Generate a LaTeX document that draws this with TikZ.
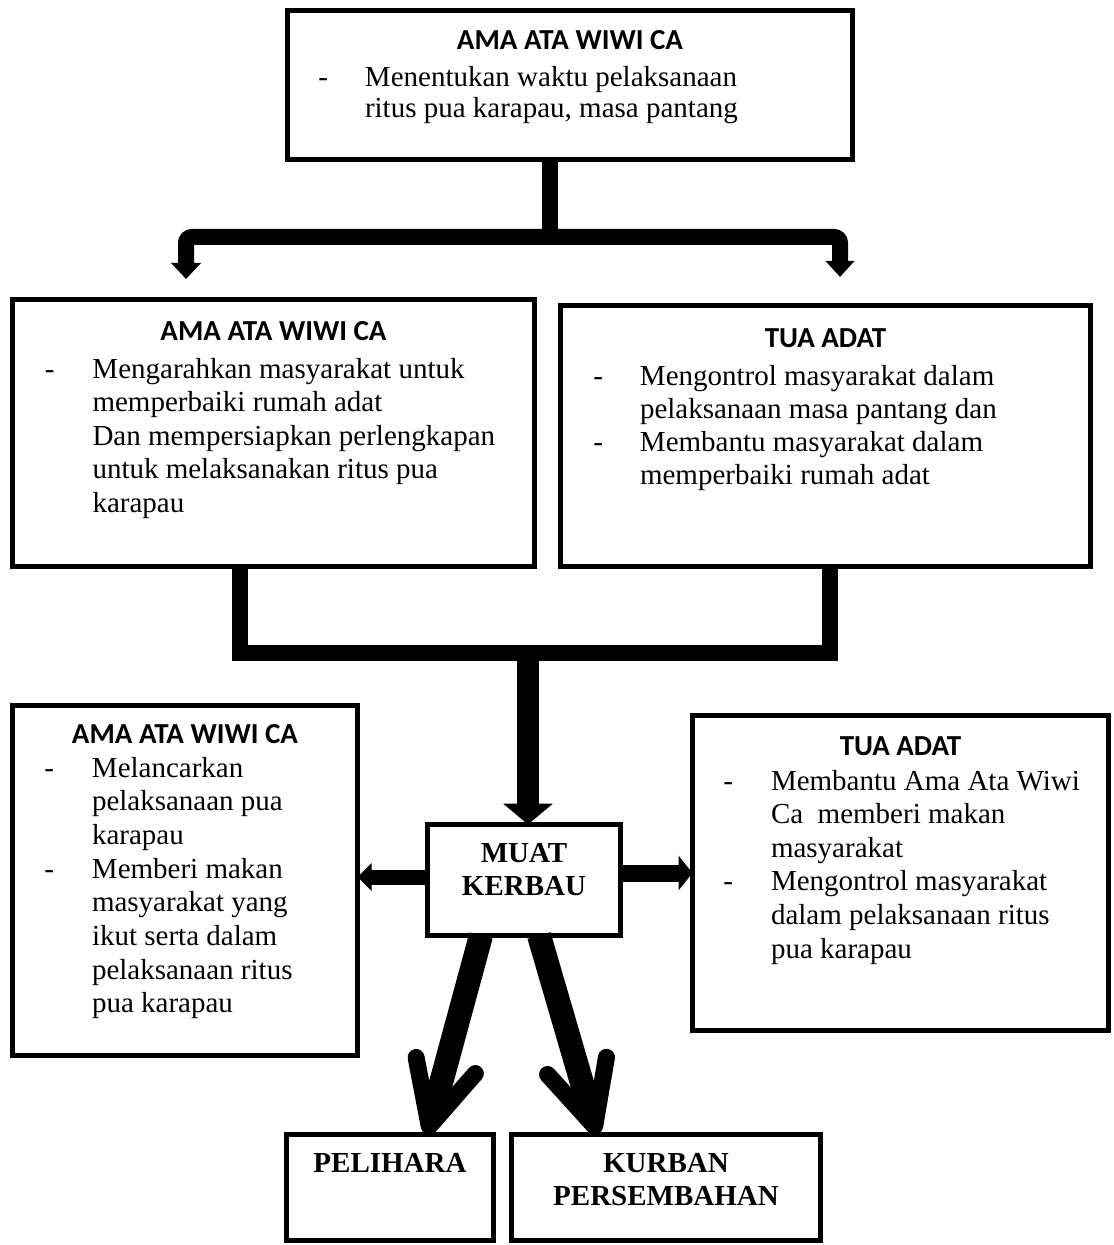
\documentclass[tikz,border=0pt]{standalone}
\usepackage{fontspec}
\setmainfont{Liberation Serif}
\newfontfamily\headfont{Carlito}
\usetikzlibrary{arrows.meta}

% heading line of a box: #1 = drop of first baseline, #2 = text
\newcommand{\boxhead}[2]{{\centering\headfont\bfseries\rule{0pt}{#1}#2\par}}
% hanging dash before an item
\newcommand{\dsh}[1]{\noindent\llap{-\hspace{#1}}}

\begin{document}
\begin{tikzpicture}[x=0.5pt, y=-0.5pt]%
        \tikzstyle{box} = [draw, line width=2.5pt, inner sep=0pt, outer sep=0pt, font=\fontsize{14.5}{17}\selectfont]
        \tikzstyle{bar} = [line width=8pt]
        \tikzstyle{fork} = [line width=12pt, -{Straight Barb[length=31.5pt, width=30.7pt, line width=8.5pt, round]}]

        \path[use as bounding box, fill=white] (0,0) rectangle (1113,1245);

        % boxes
        \node[box] (top) at (570,85) {\parbox[c][74.5pt][t]{282.5pt}{%
          \boxhead{19.75pt}{AMA ATA WIWI CA}
          \baselineskip=15.5pt \leftskip=38.75pt \vspace{3pt}
          \dsh{18.5pt}Menentukan waktu pelaksanaan\\ ritus pua karapau, masa pantang\par}};

        \node[box] (amaA) at (273.5,433) {\parbox[c][133pt][t]{261pt}{%
          \boxhead{20pt}{AMA ATA WIWI CA}
          \baselineskip=16.75pt \leftskip=40pt \vspace{2.25pt}
          \dsh{19pt}Mengarahkan masyarakat untuk\\ memperbaiki rumah adat\\
          Dan mempersiapkan perlengkapan\\ untuk melaksanakan ritus pua\\ karapau\par}};

        \node[box] (tuaA) at (825.5,436) {\parbox[c][130pt][t]{265pt}{%
          \boxhead{20.5pt}{TUA ADAT}
          \baselineskip=16.65pt \leftskip=39.75pt \vspace{2.35pt}
          \dsh{18.5pt}Mengontrol masyarakat dalam\\ pelaksanaan masa pantang dan\par
          \dsh{18.5pt}Membantu masyarakat dalam\\ memperbaiki rumah adat\par}};

        \node[box] (amaB) at (185,880.5) {\parbox[c][175pt][t]{172.5pt}{%
          \boxhead{18.75pt}{AMA ATA WIWI CA}
          \baselineskip=16.85pt \leftskip=39.75pt \vspace{0.15pt}
          \dsh{19pt}Melancarkan\\ pelaksanaan pua\\ karapau\par
          \dsh{19pt}Memberi makan\\ masyarakat yang\\ ikut serta dalam\\ pelaksanaan ritus\\ pua karapau\par}};

        \node[box] (tuaB) at (900.5,873) {\parbox[c][157.5pt][t]{208pt}{%
          \boxhead{19.75pt}{TUA ADAT}
          \baselineskip=16.8pt \leftskip=39.25pt \vspace{0.7pt}
          \dsh{19pt}Membantu Ama Ata Wiwi\\ Ca\ \ memberi makan\\ masyarakat\par
          \dsh{19pt}Mengontrol masyarakat\\ dalam pelaksanaan ritus\\ pua karapau\par}};

        \node[box] (muat) at (524,880) {\parbox[c][55.5pt][t]{96.5pt}{%
          \centering\bfseries\baselineskip=16.5pt\rule{0pt}{18.75pt}MUAT\\ KERBAU\par}};

        \node[box] (pelihara) at (390,1187.5) {\parbox[c][53pt][t]{103.5pt}{%
          \centering\bfseries\rule{0pt}{18.75pt}PELIHARA\par}};

        \node[box] (kurban) at (666,1187.5) {\parbox[c][53pt][t]{154.5pt}{%
          \centering\bfseries\baselineskip=16.5pt\rule{0pt}{18.75pt}KURBAN\\ PERSEMBAHAN\par}};

        % connectors
        \coordinate (split) at (550,237);
        \coordinate (tipL) at (186,279);
        \coordinate (tipR) at (840,277);
        \coordinate (join) at (528,653);

        \draw[bar] (top.south -| split) -- (split);
        \draw[bar, rounded corners=3pt, -{Triangle[length=8pt, width=14.5pt]}] (split) -| (tipL);
        \draw[bar, rounded corners=3pt, -{Triangle[length=8pt, width=14pt]}] (split) -| (tipR);

        \draw[bar] (amaA.south -| 240,0) |- (join) -| (tuaA.south -| 830,0);
        \draw[line width=11pt, -{Triangle[length=10.5pt, width=24.5pt]}] (join) -- (muat.north -| join);

        \draw[line width=7.5pt, -{Triangle[length=7pt, width=13.5pt]}] (muat.west |- 0,877) -- (amaB.east |- 0,877);
        \draw[line width=8.5pt, -{Triangle[length=7pt, width=17pt]}] (muat.east |- 0,873) -- (tuaB.west |- 0,873);

        \draw[fork] (muat.south -| 481,0) -- (pelihara.north -| 427,0);
        \draw[fork] (muat.south -| 539,0) -- (kurban.north -| 597,0);
      \end{tikzpicture}
\end{document}
